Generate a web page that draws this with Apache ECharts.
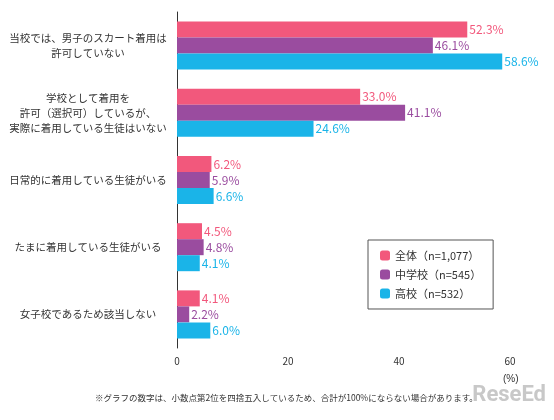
<!DOCTYPE html><html><head><meta charset="utf-8"><script src="https://cdn.jsdelivr.net/npm/echarts@6/dist/echarts.min.js"></script></head><body style="margin:0"><div id="c" style="width:554px;height:420px"></div><script>
const categories=["当校では、男子のスカート着用は\n許可していない","学校として着用を\n許可（選択可）しているが、\n実際に着用している生徒はいない","日常的に着用している生徒がいる","たまに着用している生徒がいる","女子校であるため該当しない"];
const seriesNames=["全体（n=1,077）","中学校（n=545）","高校（n=532）"];
const allValues=[52.3,33.0,6.2,4.5,4.1];
const juniorValues=[46.1,41.1,5.9,4.8,2.2];
const seniorValues=[58.6,24.6,6.6,4.1,6.0];
const colors=["#f2587c","#9a4c9f","#1ab4e8"];
const font='"Noto Sans CJK JP"';
const mk=(name,data,i)=>({name,type:'bar',data,barWidth:16,barGap:'0%',itemStyle:{color:colors[i]},
 label:{show:true,position:'right',formatter:p=>p.value.toFixed(1)+'%',color:colors[i],fontSize:12,fontFamily:font,distance:2}});
const ch=echarts.init(document.getElementById('c'));
ch.setOption({textStyle:{fontFamily:font},
grid:{left:177,right:44,top:12,bottom:72},
xAxis:{type:'value',min:0,max:60,interval:20,axisLabel:{color:'#333',fontSize:10},splitLine:{show:false},axisLine:{show:false},axisTick:{show:false}},
yAxis:{type:'category',inverse:true,data:categories,axisTick:{show:false},axisLine:{lineStyle:{color:'#333'}},axisLabel:{color:'#333',fontSize:10.5,align:'center',margin:89,lineHeight:15}},
legend:{orient:'vertical',left:368,top:240,itemWidth:10,itemHeight:10,itemGap:8,padding:[10,12],borderColor:'#555',borderWidth:1,backgroundColor:'#fff',textStyle:{fontSize:11,color:'#333'},data:seriesNames},
graphic:[{type:'text',left:503,top:374,style:{text:'(%)',fontSize:10,fill:'#333'}},
{type:'text',left:95,top:394,style:{text:'※グラフの数字は、小数点第2位を四捨五入しているため、合計が100%にならない場合があります。',fontSize:8.5,fill:'#333',fontFamily:font}},
{type:'text',right:8,top:384,style:{text:'ReseEd',fontSize:22,fontWeight:'bold',fill:'#c8c8c8',fontFamily:'Roboto'}}],
series:[mk(seriesNames[0],allValues,0),mk(seriesNames[1],juniorValues,1),mk(seriesNames[2],seniorValues,2)]});
</script></body></html>
